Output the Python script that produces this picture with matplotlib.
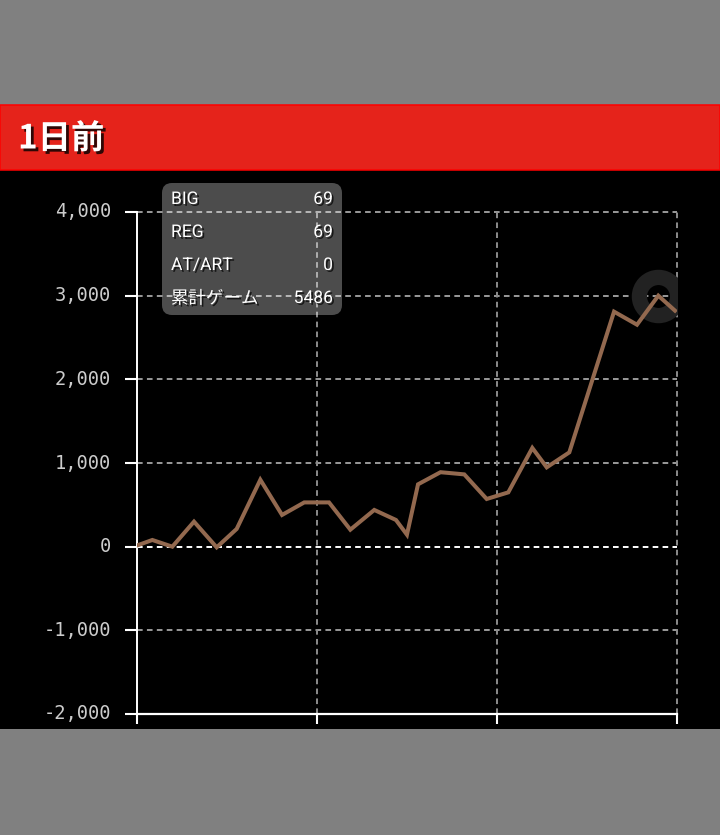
import matplotlib
matplotlib.use("Agg")
import matplotlib.pyplot as plt
import matplotlib.patheffects as pe
import matplotlib.transforms as mtrans
from matplotlib.patches import Rectangle, FancyBboxPatch

W, H = 720, 835
TITLE = "1日前"
games = [0, 176, 398, 639, 891, 1113, 1376, 1617, 1864, 2139, 2376, 2642, 2883,
         3005, 3128, 3378, 3642, 3891, 4131, 4398, 4558, 4809, 5306, 5561, 5798, 5983]
diff = [12, 80, 0, 299, -8, 212, 800, 379, 529, 529, 203, 439, 319,
        143, 745, 890, 864, 570, 649, 1180, 948, 1127, 2809, 2653, 3000, 2821]
y_ticks = [-2000, -1000, 0, 1000, 2000, 3000, 4000]
x_ticks = [0, 2000, 4000, 6000]
info_labels = ["BIG", "REG", "AT/ART", "累計ゲーム"]
info_values = ["69", "69", "0", "5486"]
highlight = 24

fig = plt.figure(figsize=(W / 100, H / 100), dpi=100, facecolor="#808080")

def fx(p): return p / W
def fy(p): return 1 - p / H

def band(top, bottom, color, **kw):
    fig.add_artist(Rectangle((0, fy(bottom)), 1, (bottom - top) / H, transform=fig.transFigure,
                             facecolor=color, **kw))

band(170, 729, "#000000", edgecolor="none", zorder=0)
band(105.5, 170, "#e5231b", edgecolor="#ff0000", linewidth=1.1, zorder=0)

ax = fig.add_axes([fx(136.5), fy(714), (676.5 - 136.5) / W, (714 - 212) / H])
ax.set_facecolor("none")
ax.set_xlim(0, 6000)
ax.set_ylim(-2000, 4000)
ax.set_yticks(y_ticks)
ax.set_xticks(x_ticks)
ax.set_yticklabels([f"{v:,}" for v in y_ticks], family="DejaVu Sans Mono", fontsize=13.5, color="#cccccc")
ax.set_xticklabels([])
ax.tick_params(axis="y", length=9, width=1.5, color="white", pad=8)
ax.tick_params(axis="x", length=7, width=1.5, color="white")
shift = mtrans.ScaledTranslation(-2 / 100, 2 / 100, fig.dpi_scale_trans)
for tick_label in ax.get_yticklabels():
    tick_label.set_transform(tick_label.get_transform() + shift)

dash = (0, (2.9, 2.2))
for v in y_ticks:
    if v == -2000:
        continue
    color = "white" if v == 0 else "#9a9a9a"
    ax.plot(ax.get_xlim(), [v, v], color=color, lw=1.4, ls=dash, zorder=1, clip_on=False)
for v in x_ticks[1:]:
    ax.plot([v, v], ax.get_ylim(), color="#8c8c8c", lw=1.4, ls=dash, zorder=1, clip_on=False)

for side in ("top", "right"):
    ax.spines[side].set_visible(False)
ax.spines["left"].set_color("white")
ax.spines["left"].set_linewidth(1.4)
ax.spines["bottom"].set_color("white")
ax.spines["bottom"].set_linewidth(1.6)

ax.plot([games[highlight]], [diff[highlight]], marker="o", ms=27.5, mfc="none",
        mec="#222222", mew=11, zorder=2, ls="none")
ax.plot(games, diff, color="#93694f", lw=2.9, solid_joinstyle="miter", zorder=3)

# Tooltip overlay
tip = FancyBboxPatch((170, H - 307), 164, 116, boxstyle="round,pad=8,rounding_size=10",
                     transform=mtrans.IdentityTransform(), facecolor="white",
                     alpha=0.3, edgecolor="none", zorder=5)
fig.add_artist(tip)

shadow = [pe.withSimplePatchShadow(offset=(1.3, -1.3), shadow_rgbFace="#000000", alpha=0.7)]
fonts = ["Roboto", "Noto Sans CJK JP", "DejaVu Sans"]
for i, (label, val) in enumerate(zip(info_labels, info_values)):
    yp = 199.5 + i * 33
    fig.text(fx(171), fy(yp), label, color="white", fontsize=12.6, family=fonts, va="center", ha="left",
             zorder=6, path_effects=shadow)
    fig.text(fx(333), fy(yp), val, color="white", fontsize=12.6, family=fonts, va="center", ha="right",
             zorder=6, path_effects=shadow)

fig.text(fx(18), fy(139), TITLE, color="white", fontsize=24, fontweight="bold",
         family=["Noto Sans CJK JP", "DejaVu Sans"], va="center", ha="left", zorder=6,
         path_effects=[pe.withSimplePatchShadow(offset=(2, -2), shadow_rgbFace="#000000", alpha=0.8)])

fig.savefig("out.png", dpi=100, facecolor=fig.get_facecolor())
